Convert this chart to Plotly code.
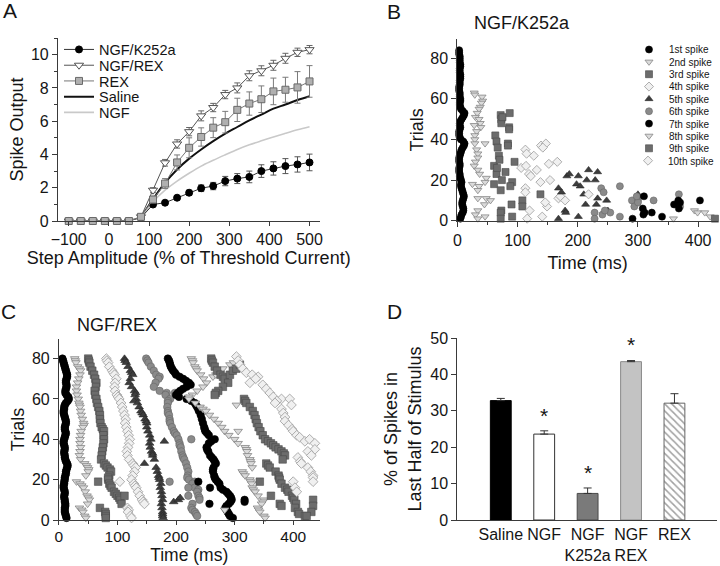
import plotly.graph_objects as go

FONT = "Liberation Sans, Arial, sans-serif"
W, H = 720, 566

# ---------------- Panel A data ----------------
A_X = [-100, -70, -40, -10, 20, 50, 80, 110, 140, 170, 200, 230, 260, 290, 320, 350, 380, 410, 440, 470, 500]
A_K252A = [0, 0, 0, 0, 0, 0, 0.2, 0.99, 1.1, 1.4, 1.7, 1.97, 2.1, 2.4, 2.55, 2.65, 3.0, 3.16, 3.3, 3.4, 3.52]
A_K252A_ERR = [0, 0, 0, 0, 0, 0, 0.05, 0.1, 0.1, 0.12, 0.15, 0.2, 0.22, 0.28, 0.3, 0.35, 0.38, 0.4, 0.45, 0.46, 0.5]
A_NGFREX = [0, 0, 0, 0, 0, 0, 0.25, 1.85, 3.5, 4.63, 5.37, 6.32, 6.82, 7.6, 8.0, 8.73, 9.03, 9.36, 9.78, 10.14, 10.3]
A_NGFREX_ERR = [0, 0, 0, 0, 0, 0, 0.05, 0.15, 0.2, 0.25, 0.25, 0.3, 0.25, 0.25, 0.3, 0.3, 0.3, 0.3, 0.3, 0.25, 0.25]
A_REX = [0, 0, 0, 0, 0, 0, 0.25, 1.29, 2.25, 3.52, 4.4, 5.05, 5.61, 5.94, 6.68, 7.06, 7.32, 7.79, 7.89, 8.03, 8.39]
A_REX_ERR = [0, 0, 0, 0, 0, 0, 0.05, 0.2, 0.3, 0.45, 0.6, 0.55, 0.6, 0.65, 0.7, 0.7, 0.8, 0.8, 0.75, 0.95, 0.95]
A_SALINE = [None, None, None, None, None, None, 0.2, 1.3, 2.3, 3.1, 3.75, 4.3, 4.8, 5.25, 5.65, 6.05, 6.4, 6.75, 7.0, 7.27, 7.5]
A_NGF = [None, None, None, None, None, None, 0.2, 1.15, 1.85, 2.4, 2.87, 3.3, 3.65, 3.98, 4.3, 4.58, 4.82, 5.05, 5.27, 5.48, 5.67]
A_XTICKS = [-100, 0, 100, 200, 300, 400, 500]

# ---------------- Panel B data (NGF/K252a raster) : (trial, ms) ----------------
B_R1_MS = [5, 6, 7, 9, 10, 10, 9, 8, 8, 9, 10, 11, 10, 9, 8, 7, 6, 6, 7, 6,
           5, 4, 4, 3, 3, 3, 4, 4, 3, 3, 3, 4, 5, 6, 7, 9, 11, 12, 10, 6,
           4, 3, 3, 3, 4, 5, 4, 4, 5, 7, 9, 11, 12, 9, 6, 5, 4, 4, 5, 5,
           4, 4, 4, 3, 3, 3, 4, 4, 4, 5, 5, 5, 4, 4, 4, 5, 5, 4, 4, 4,
           4, 3, 3, 3]
B_R2 = [(63, 28), (62, 29), (61, 41), (59, 42), (58, 40), (56, 38), (55, 36), (53, 33), (51, 30), (50, 36),
        (48, 38), (47, 28), (46, 39), (44, 32), (42, 29), (40, 29), (38, 46), (38, 29), (35, 32), (33, 34),
        (31, 34), (29, 30), (27, 28), (25, 34), (23, 37), (21, 48), (19, 46), (18, 25), (17, 36), (15, 34),
        (11, 34), (11, 48), (10, 55), (8, 45), (5, 34), (3, 30), (2, 46), (1, 34)]
B_R3 = [(52, 72), (50, 73), (48, 73), (53, 87), (46, 86), (42, 63), (39, 65), (38, 84), (37, 84), (36, 67),
        (32, 69), (27, 61), (29, 95), (23, 65), (24, 80), (20, 74), (18, 61), (19, 91), (17, 88), (15, 72),
        (13, 138), (10, 108), (7, 108), (8, 90), (5, 73), (4, 72), (1, 72), (2, 91), (26, 66), (30, 70),
        (45, 86), (51, 75)]
B_R4 = [(26, 106), (35, 113), (27, 114), (23, 119), (32, 127), (37, 139), (38, 147), (28, 152), (25, 132), (19, 138),
        (20, 154), (29, 166), (16, 113), (14, 113), (5, 120), (1, 116), (2, 141), (7, 149), (9, 146), (11, 168),
        (10, 179), (12, 171), (33, 115), (22, 122), (36, 142)]
B_R5 = [(1, 168), (5, 179), (4, 180), (16, 168), (14, 173), (22, 182), (23, 186), (22, 201), (18, 198), (17, 204),
        (25, 218), (24, 233), (20, 215), (20, 229), (8, 213), (8, 231), (11, 233), (10, 248), (5, 250), (2, 201),
        (13, 300), (12, 300), (13, 210)]
B_R6 = [(4, 228), (3, 241), (4, 254), (16, 239), (14, 243), (1, 228), (2, 270), (17, 270), (10, 290), (7, 294),
        (10, 300), (9, 300), (10, 326), (13, 368), (7, 370), (12, 298), (5, 245)]
B_R7 = [(1, 291), (12, 310), (6, 308), (4, 311), (4, 323), (2, 340), (8, 360), (10, 367), (9, 370), (6, 368),
        (10, 403), (3, 309)]
B_R8 = [(1, 359), (5, 394), (4, 399), (4, 411), (2, 420)]
B_R9 = [(1, 428)]
B_R10 = [(13, 218)]

# ---------------- Panel C data (NGF/REX raster) : (trial, ms) ----------------
C_R1_MS = [13, 12, 11, 10, 10, 10, 11, 11, 10, 10, 9, 9, 10, 10, 9, 8, 8, 9, 9, 10,
           10, 11, 12, 12, 13, 14, 15, 14, 12, 11, 10, 10, 9, 9, 10, 10, 9, 8, 8, 9,
           10, 11, 12, 11, 10, 10, 11, 12, 12, 11, 10, 9, 8, 8, 9, 9, 10, 12, 15, 17,
           16, 13, 11, 11, 12, 13, 13, 12, 12, 13, 14, 14, 13, 12, 11, 10, 9, 8, 7, 6]
C_R2 = [(80, 27), (79, 28), (78, 29), (76, 32), (75, 35), (74, 37), (72, 36), (70, 34), (68, 32), (66, 30),
        (64, 30), (62, 31), (60, 33), (58, 34), (57, 35), (56, 36), (54, 37), (52, 38), (50, 40), (48, 42),
        (47, 43), (46, 41), (44, 38), (42, 37), (40, 36), (38, 36), (36, 37), (34, 36), (32, 35), (30, 37),
        (28, 44), (27, 47), (26, 49), (25, 51), (24, 50), (22, 46), (19, 30), (18, 36), (17, 39), (16, 42),
        (14, 45), (12, 48), (11, 50), (10, 52), (8, 49), (6, 35), (5, 39), (4, 41), (2, 44), (1, 46)]
C_R3 = [(80, 50), (79, 51), (78, 52), (76, 54), (74, 57), (72, 60), (70, 62), (68, 64), (66, 63), (64, 61),
        (62, 62), (60, 64), (58, 65), (56, 67), (54, 69), (52, 70), (50, 70), (48, 71), (46, 73), (45, 75),
        (44, 77), (42, 76), (40, 77), (38, 76), (36, 75), (34, 74), (32, 73), (30, 72), (28, 77), (27, 80),
        (26, 83), (25, 87), (24, 89), (22, 86), (21, 84), (20, 84), (19, 67), (18, 86), (17, 88), (16, 90),
        (14, 94), (13, 97), (12, 100), (11, 103), (10, 105), (8, 107), (12, 112), (6, 70), (4, 79), (3, 80),
        (2, 80), (1, 80)]
C_R4 = [(80, 81), (79, 82), (78, 84), (76, 86), (74, 91), (73, 93), (72, 95), (70, 98), (68, 96), (66, 95),
        (64, 96), (62, 99), (61, 101), (60, 103), (58, 106), (56, 108), (54, 110), (52, 112), (50, 114), (48, 113),
        (46, 115), (44, 117), (42, 119), (40, 121), (38, 120), (36, 118), (34, 116), (32, 117), (30, 120), (28, 126),
        (27, 128), (26, 131), (24, 129), (22, 126), (20, 124), (19, 104), (18, 128), (17, 130), (16, 132), (14, 135),
        (12, 138), (10, 142), (9, 144), (8, 146), (6, 117), (5, 119), (4, 118), (2, 122), (1, 124)]
C_R5 = [(80, 112), (79, 113), (78, 115), (76, 118), (74, 122), (73, 124), (72, 126), (70, 122), (68, 120), (66, 124),
        (64, 129), (63, 131), (62, 130), (60, 132), (59, 128), (58, 134), (56, 137), (54, 140), (53, 142), (52, 144),
        (50, 147), (49, 149), (48, 150), (46, 150), (44, 152), (42, 155), (40, 157), (39, 180), (38, 155), (36, 156),
        (34, 158), (33, 160), (32, 160), (30, 163), (28, 146), (26, 166), (24, 168), (22, 170), (21, 171), (20, 172),
        (18, 174), (16, 173), (14, 175), (12, 176), (10, 177), (9, 196), (10, 204), (11, 207), (8, 175), (6, 176),
        (4, 177), (3, 177), (2, 177), (1, 178)]
C_R6 = [(80, 149), (79, 151), (78, 153), (76, 157), (74, 162), (72, 166), (71, 172), (70, 170), (68, 165), (66, 162),
        (64, 172), (63, 184), (63, 198), (62, 182), (60, 190), (59, 186), (58, 186), (56, 185), (54, 186), (53, 186),
        (52, 188), (50, 189), (49, 189), (48, 190), (46, 193), (44, 196), (43, 198), (42, 201), (40, 204), (40, 226),
        (38, 206), (37, 206), (36, 208), (34, 209), (32, 211), (31, 212), (30, 214), (28, 217), (26, 219), (24, 221),
        (22, 220), (21, 219), (20, 222), (19, 189), (19, 232), (18, 228), (16, 232), (16, 221), (15, 238), (14, 236),
        (12, 238), (12, 221), (11, 240), (10, 240), (8, 228), (6, 226), (5, 228), (4, 232), (3, 234), (2, 236)]
C_R7 = [(80, 186), (79, 188), (78, 189), (77, 190), (76, 191), (75, 193), (74, 195), (73, 198), (72, 200), (71, 206),
        (70, 212), (69, 217), (68, 222), (67, 225), (66, 218), (65, 212), (64, 207), (63, 203), (62, 200), (61, 205),
        (60, 218), (59, 226), (58, 232), (57, 234), (56, 236), (55, 238), (54, 239), (52, 242), (50, 244), (48, 246),
        (46, 248), (45, 249), (44, 250), (43, 253), (42, 256), (40, 266), (39, 260), (38, 256), (36, 252), (35, 253),
        (34, 255), (32, 258), (31, 261), (30, 264), (29, 266), (28, 268), (26, 264), (25, 263), (24, 263), (22, 265),
        (21, 266), (20, 268), (19, 238), (19, 271), (18, 274), (16, 276), (16, 258), (15, 280), (14, 286), (13, 289),
        (12, 292), (11, 294), (10, 295), (9, 293), (8, 290), (8, 257), (7, 286), (6, 284), (5, 286), (4, 288),
        (3, 290), (2, 292), (1, 297), (10, 317), (9, 317)]
C_R8 = [(80, 226), (79, 228), (78, 229), (76, 232), (75, 234), (74, 236), (72, 242), (70, 247), (68, 252), (66, 246),
        (64, 236), (62, 228), (61, 222), (60, 222), (58, 233), (56, 241), (55, 246), (54, 251), (52, 257), (50, 265),
        (48, 272), (46, 278), (44, 283), (42, 290), (40, 300), (38, 306), (36, 318), (35, 320), (34, 321), (32, 322),
        (30, 326), (29, 327), (28, 328), (26, 330), (24, 313), (23, 315), (22, 318), (20, 326), (19, 327), (18, 329),
        (16, 330), (15, 332), (14, 335), (12, 340), (10, 350), (9, 348), (8, 346), (6, 339), (5, 341), (4, 343),
        (2, 350), (1, 352), (71, 263), (72, 268), (73, 272), (75, 280), (77, 292), (78, 298), (44, 306), (57, 303),
        (5, 283)]
C_R9 = [(80, 260), (79, 261), (78, 263), (76, 266), (74, 270), (72, 276), (71, 280), (70, 283), (68, 289), (66, 280),
        (64, 272), (63, 268), (62, 266), (72, 292), (74, 297), (75, 303), (77, 309), (60, 316), (59, 318), (58, 320),
        (56, 326), (54, 331), (52, 334), (50, 336), (48, 338), (46, 341), (44, 344), (42, 348), (40, 352), (39, 357),
        (38, 362), (37, 366), (36, 370), (35, 375), (34, 380), (33, 384), (32, 386), (30, 382), (28, 354), (27, 357),
        (26, 360), (24, 370), (22, 375), (21, 376), (20, 377), (18, 380), (16, 386), (15, 390), (14, 392), (12, 398),
        (11, 400), (10, 402), (8, 405), (6, 403), (4, 408), (3, 410), (2, 420), (19, 343), (12, 362), (8, 377),
        (7, 380), (10, 434), (7, 434), (4, 431), (2, 423)]
C_R10 = [(81, 303), (79, 306), (77, 309), (75, 314), (73, 320), (72, 330), (71, 340), (70, 336), (68, 326), (67, 348),
         (65, 354), (63, 360), (61, 366), (60, 380), (59, 372), (58, 369), (60, 394), (57, 397), (55, 380), (53, 383),
         (51, 386), (49, 386), (47, 392), (45, 398), (44, 400), (42, 406), (41, 411), (39, 420), (40, 428), (38, 437),
         (35, 437), (34, 425), (32, 431), (31, 408), (29, 412), (28, 414), (26, 425), (24, 430), (22, 434), (21, 434),
         (19, 434), (19, 400), (16, 403), (14, 406)]

SPIKE_LABELS = ["1st spike", "2nd spike", "3rd spike", "4th spike", "5th spike",
                "6th spike", "7th spike", "8th spike", "9th spike", "10th spike"]

# ---------------- Panel D data ----------------
D_CATS = ["Saline", "NGF", "NGF<br>K252a", "NGF<br>REX", "REX"]
D_VALS = [32.8, 23.6, 7.3, 43.5, 32.1]
D_ERR = [0.6, 0.9, 1.5, 0.3, 2.6]
D_SIG = [False, True, True, True, False]


# ---------------- helpers ----------------
def fx(p):
    return p / W


def fy(p):
    return 1 - p / H


TXT = "#151515"
AXC = "#3a3a3a"

fig = go.Figure()
legends = {}

# ---------- Panel A ----------
a_lines = [
    ("Saline", A_SALINE, dict(color="#111111", width=2), "legend4"),
    ("NGF", A_NGF, dict(color="#c9c9c9", width=1.6), "legend5"),
]
for name, ys, line, lg in a_lines:
    fig.add_trace(go.Scatter(x=A_X, y=ys, mode="lines", name=name, line=dict(shape="spline", **line),
                             legend=lg, xaxis="x", yaxis="y", cliponaxis=False, connectgaps=False))

a_marks = [
    ("NGF/K252a", A_K252A, A_K252A_ERR, dict(symbol="circle", size=7, color="#000000", line=dict(color="#000000", width=1)),
     dict(color="#333333", width=1), "#555555", "legend"),
    ("NGF/REX", A_NGFREX, A_NGFREX_ERR, dict(symbol="triangle-down", size=8, color="#ffffff", line=dict(color="#555555", width=1)),
     dict(color="#555555", width=1), "#666666", "legend2"),
    ("REX", A_REX, A_REX_ERR, dict(symbol="square", size=7, color="#b0b0b0", line=dict(color="#6a6a6a", width=1)),
     dict(color="#777777", width=1), "#7a7a7a", "legend3"),
]
for name, ys, err, marker, line, ecol, lg in a_marks:
    fig.add_trace(go.Scatter(x=A_X, y=ys, mode="lines+markers", name=name, marker=marker, line=line,
                             error_y=dict(type="data", array=err, color=ecol, thickness=1, width=3),
                             legend=lg, xaxis="x", yaxis="y", cliponaxis=False))

A_ROWS = [49.5, 65.3, 81, 96.7, 112.4]
for row, lg in enumerate(["legend", "legend2", "legend3", "legend4", "legend5"]):
    legends[lg] = dict(x=fx(59), y=fy(A_ROWS[row]), xanchor="left", yanchor="middle",
                       bgcolor="rgba(0,0,0,0)", borderwidth=0, itemwidth=30,
                       font=dict(family=FONT, size=14.5, color=TXT))

# ---------- raster styles ----------
STY = [
    dict(symbol="circle", color="#000000", line=dict(color="#000000", width=0.6)),
    dict(symbol="triangle-down", color="#dadada", line=dict(color="#858585", width=0.8)),
    dict(symbol="square", color="#6c6c6c", line=dict(color="#4a4a4a", width=0.6)),
    dict(symbol="diamond", color="#f0f0f0", line=dict(color="#9a9a9a", width=0.8)),
    dict(symbol="triangle-up", color="#3d3d3d", line=dict(color="#262626", width=0.6)),
    dict(symbol="circle", color="#8a8a8a", line=dict(color="#666666", width=0.6)),
]
RANK_STYLE = [0, 1, 2, 3, 4, 5, 0, 1, 2, 3]

# ---------- Panel B ----------
b_ranks = [list(zip(range(1, len(B_R1_MS) + 1), B_R1_MS)), B_R2, B_R3, B_R4, B_R5, B_R6, B_R7, B_R8, B_R9, B_R10]
B_ROW0, B_DY = 49.5, 12.35
for k, pts in enumerate(b_ranks):
    st = STY[RANK_STYLE[k]]
    lg = "legend%d" % (k + 6)
    fig.add_trace(go.Scatter(x=[p[1] for p in pts], y=[p[0] for p in pts], mode="markers", name=SPIKE_LABELS[k],
                             marker=dict(size=7, **st), legend=lg, xaxis="x2", yaxis="y2", cliponaxis=False))
    legends[lg] = dict(x=fx(629), y=fy(B_ROW0 + k * B_DY), xanchor="left", yanchor="middle",
                       bgcolor="rgba(0,0,0,0)", borderwidth=0, itemwidth=30,
                       font=dict(family=FONT, size=10, color=TXT))

# ---------- Panel C ----------
c_ranks = [list(zip(range(1, len(C_R1_MS) + 1), C_R1_MS)), C_R2, C_R3, C_R4, C_R5, C_R6, C_R7, C_R8, C_R9, C_R10]
for k, pts in enumerate(c_ranks):
    st = STY[RANK_STYLE[k]]
    fig.add_trace(go.Scatter(x=[p[1] for p in pts], y=[p[0] for p in pts], mode="markers", name=SPIKE_LABELS[k],
                             marker=dict(size=7.5, **st), showlegend=False, xaxis="x3", yaxis="y3", cliponaxis=False))

# ---------- Panel D ----------
fig.add_trace(go.Bar(
    x=D_CATS, y=D_VALS, width=0.48, showlegend=False, xaxis="x4", yaxis="y4",
    marker=dict(color=["#000000", "#ffffff", "#7a7a7a", "#c3c3c3", "#ffffff"],
                line=dict(color=["#000000", "#333333", "#4a4a4a", "#8a8a8a", "#666666"], width=1),
                pattern=dict(shape=["", "", "", "", "\\"], fgcolor="#555555", size=5, solidity=0.3)),
    error_y=dict(type="data", array=D_ERR, arrayminus=[0] * len(D_ERR), symmetric=False,
                 color="#333333", thickness=1, width=4),
))

annotations = []
for i, (v, e, s) in enumerate(zip(D_VALS, D_ERR, D_SIG)):
    if s:
        annotations.append(dict(x=i, y=v + e + 0.6, xref="x4", yref="y4", text="*", showarrow=False,
                                yanchor="bottom", font=dict(family=FONT, size=21, color=TXT)))

for txt, x, y in [("A", 10, 10), ("B", 395, 11), ("C", 9, 311), ("D", 395, 311)]:
    annotations.append(dict(x=fx(x), y=fy(y), xref="paper", yref="paper", text=txt, showarrow=False,
                            xanchor="center", yanchor="middle", font=dict(family=FONT, size=21, color=TXT)))
for txt, x, y in [("NGF/K252a", 523, 23), ("NGF/REX", 117, 325)]:
    annotations.append(dict(x=fx(x), y=fy(y), xref="paper", yref="paper", text=txt, showarrow=False,
                            xanchor="center", yanchor="middle", font=dict(family=FONT, size=18, color=TXT)))


def axis(**kw):
    base = dict(showline=True, linecolor=AXC, linewidth=1, ticks="outside", ticklen=5, tickwidth=1,
                tickcolor=AXC, showgrid=False, zeroline=False, automargin=False,
                tickfont=dict(family=FONT, size=16, color=TXT),
                title_font=dict(family=FONT, size=18, color=TXT))
    base.update(kw)
    return base


fig.update_layout(
    width=W, height=H, margin=dict(l=0, r=0, t=0, b=0),
    paper_bgcolor="white", plot_bgcolor="white",
    font=dict(family=FONT, color=TXT),
    annotations=annotations,
    xaxis=axis(domain=[fx(58), fx(320)], range=[-127, 525], anchor="y", tickvals=A_XTICKS, ticklen=4,
               title=dict(text="Step Amplitude (% of Threshold Current)", standoff=3)),
    yaxis=axis(domain=[fy(221), fy(38)], range=[0, 11], anchor="x", dtick=2, tick0=0,
               minor=dict(dtick=1, ticklen=3, ticks="outside", tickcolor=AXC),
               title=dict(text="Spike Output", standoff=2)),
    xaxis2=axis(domain=[fx(458), fx(719)], range=[0, 433], anchor="y2", dtick=100, tick0=0,
                minor=dict(dtick=50, ticklen=3, ticks="outside", tickcolor=AXC),
                title=dict(text="Time (ms)", standoff=8)),
    yaxis2=axis(domain=[fy(220.7), fy(39)], range=[0, 89.5], anchor="x2", dtick=20, tick0=0,
                title=dict(text="Trials", standoff=2)),
    xaxis3=axis(domain=[fx(59), fx(320)], range=[0, 445], anchor="y3", dtick=100, tick0=0, ticklen=4,
                ticklabelstandoff=-2,
                tickfont=dict(family=FONT, size=15.5, color=TXT),
                title_font=dict(family=FONT, size=17.5, color=TXT),
                minor=dict(dtick=50, ticklen=3, ticks="outside", tickcolor=AXC),
                title=dict(text="Time (ms)", standoff=4)),
    yaxis3=axis(domain=[fy(520), fy(339)], range=[0, 89.7], anchor="x3", dtick=20, tick0=0,
                title=dict(text="Trials", standoff=2)),
    xaxis4=axis(domain=[fx(458), fx(718)], type="category", range=[-1.0, 4.98], anchor="y4", ticks=""),
    yaxis4=axis(domain=[fy(520), fy(338)], range=[0, 50], anchor="x4", dtick=10, tick0=0,
                title=dict(text="% of Spikes in<br>Last Half of Stimulus", standoff=4)),
    **legends,
)

fig.write_html("out.html", config={"displayModeBar": False},
               post_script="document.body.style.margin='0px';document.body.style.padding='0px';")
